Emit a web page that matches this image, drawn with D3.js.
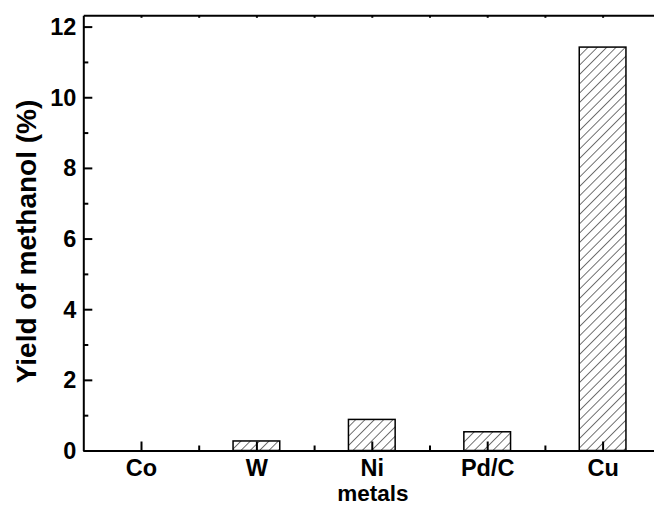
<!DOCTYPE html>
<html><head><meta charset="utf-8">
<script src="https://cdn.jsdelivr.net/npm/d3@7"></script>
<style>
html,body{margin:0;padding:0;background:#fff;}
svg{display:block;}
text{font-family:"Liberation Sans",Arial,sans-serif;font-weight:bold;fill:#000;}
</style></head>
<body><svg id="c" width="654" height="506"></svg>
<script>
const categories = ["Co", "W", "Ni", "Pd/C", "Cu"];
const yieldValues = [0, 0.27, 0.88, 0.53, 11.42];
const yMajorTicks = [0, 2, 4, 6, 8, 10, 12];
const yMinorTicks = [1, 3, 5, 7, 9, 11];
const xMinorTicks = [0.5, 1.5, 2.5, 3.5, 4.5];
const xLabel = "metals";
const yLabel = "Yield of methanol (%)";

const svg = d3.select("#c");
const x = d3.scaleLinear().domain([-0.5, 4.5]).range([83.3, 660.3]);
const y = d3.scaleLinear().domain([0, 12.32]).range([450.5, 15.3]);
const barW = 46.7;

const defs = svg.append("defs");
const pat = defs.append("pattern").attr("id", "hatch").attr("patternUnits", "userSpaceOnUse")
  .attr("width", 6.6).attr("height", 6.6).attr("patternTransform", "rotate(45)");
pat.append("rect").attr("width", 6.6).attr("height", 6.6).attr("fill", "#fff");
pat.append("line").attr("x1", 0).attr("y1", 0).attr("x2", 0).attr("y2", 6.6)
  .attr("stroke", "#000").attr("stroke-width", 1.1);

svg.append("g").selectAll("rect").data(yieldValues.map((v, i) => ({v, i})).filter(d => d.v > 0)).join("rect")
  .attr("x", d => x(d.i) - barW / 2)
  .attr("y", d => y(d.v))
  .attr("width", barW)
  .attr("height", d => y(0) - y(d.v))
  .attr("fill", "url(#hatch)")
  .attr("stroke", "#000").attr("stroke-width", 1.5);

function styleAxis(g) {
  g.selectAll(".domain").attr("stroke", "#000").attr("stroke-width", 2);
  g.selectAll(".tick line").attr("stroke", "#000").attr("stroke-width", 2);
}

// left axis
const gL = svg.append("g").attr("transform", `translate(${x(-0.5)},0)`)
  .call(d3.axisLeft(y).tickValues(yMajorTicks).tickSize(-9).tickSizeOuter(0).tickPadding(7));
gL.call(styleAxis);
gL.selectAll("text").attr("font-size", 23.5).attr("font-family", null).attr("dy", "0.34em");
const gLm = svg.append("g").attr("transform", `translate(${x(-0.5)},0)`)
  .call(d3.axisLeft(y).tickValues(yMinorTicks).tickSize(-5).tickSizeOuter(0).tickFormat(""));
gLm.call(styleAxis);
gLm.select(".domain").remove();

// bottom axis
const gB = svg.append("g").attr("transform", `translate(0,${y(0)})`)
  .call(d3.axisBottom(x).tickValues(d3.range(categories.length)).tickSize(-9).tickSizeOuter(0)
    .tickFormat(i => categories[i]));
gB.call(styleAxis);
gB.selectAll("text").attr("font-size", 23.5).attr("font-family", null).attr("y", 25).attr("dy", 0);
const gBm = svg.append("g").attr("transform", `translate(0,${y(0)})`)
  .call(d3.axisBottom(x).tickValues(xMinorTicks).tickSize(-5).tickSizeOuter(0).tickFormat(""));
gBm.call(styleAxis);
gBm.select(".domain").remove();

// top axis
const gT = svg.append("g").attr("transform", `translate(0,${y(12.32)})`)
  .call(d3.axisTop(x).tickValues(d3.range(categories.length).concat(xMinorTicks)).tickSize(-2.5).tickSizeOuter(0).tickFormat(""));
gT.call(styleAxis);

svg.append("text").attr("x", 373).attr("y", 501).attr("text-anchor", "middle")
  .attr("font-size", 22.5).text(xLabel);
svg.append("text").attr("transform", "translate(36,241.5) rotate(-90)").attr("text-anchor", "middle")
  .attr("font-size", 28).text(yLabel);
</script></body></html>
